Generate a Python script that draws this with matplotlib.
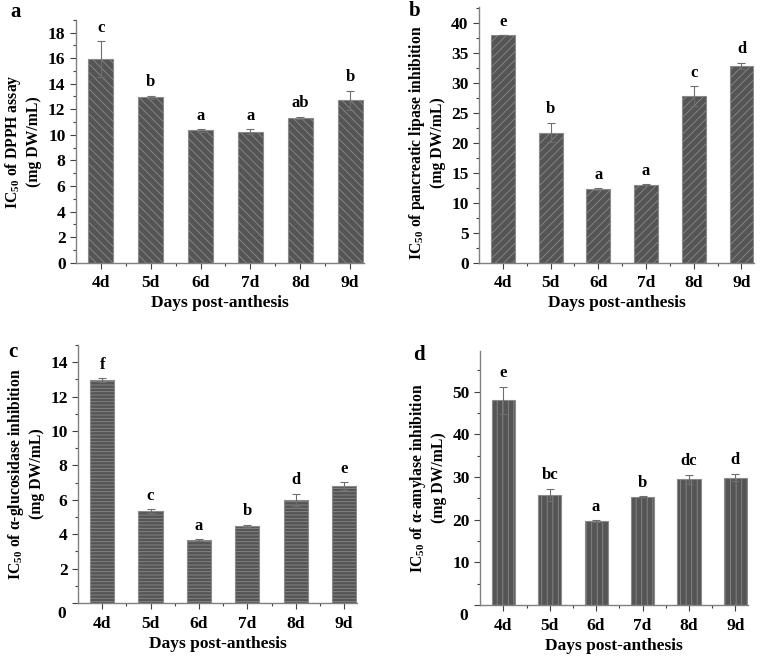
import matplotlib.pyplot as plt
from matplotlib.ticker import MultipleLocator, AutoMinorLocator, FuncFormatter

plt.rcParams['font.family'] = ['Liberation Serif', 'DejaVu Serif']
plt.rcParams['font.weight'] = 'bold'
plt.rcParams['mathtext.fontset'] = 'custom'
plt.rcParams['mathtext.rm'] = 'Liberation Serif:bold'
plt.rcParams['mathtext.default'] = 'rm'
plt.rcParams['hatch.color'] = '#2e2e2e'
plt.rcParams['hatch.linewidth'] = 0.6

days = ['4d', '5d', '6d', '7d', '8d', '9d']

# panel a - DPPH
dpph = [15.9, 12.95, 10.35, 10.25, 11.35, 12.7]
dpph_err = [1.4, 0.12, 0.1, 0.2, 0.08, 0.75]
dpph_sig = ['c', 'b', 'a', 'a', 'ab', 'b']

# panel b - pancreatic lipase
lipase = [37.9, 21.7, 12.3, 13.0, 27.8, 32.8]
lipase_err = [0.0, 1.6, 0.1, 0.05, 1.6, 0.5]
lipase_sig = ['e', 'b', 'a', 'a', 'c', 'd']

# panel c - alpha-glucosidase
gluc = [12.95, 5.35, 3.65, 4.5, 6.0, 6.8]
gluc_err = [0.12, 0.1, 0.05, 0.05, 0.35, 0.22]
gluc_sig = ['f', 'c', 'a', 'b', 'd', 'e']

# panel d - alpha-amylase
amyl = [48.0, 25.8, 19.7, 25.4, 29.5, 29.9]
amyl_err = [3.2, 1.5, 0.2, 0.1, 1.1, 0.9]
amyl_sig = ['e', 'bc', 'a', 'b', 'dc', 'd']

panels = [
    # letter, values, err, sig, hatch, ymax, major step, ylabel, axes rect, letter pos (px), label y
    ('a', dpph, dpph_err, dpph_sig, '\\\\\\\\', 19, 2,
     'IC$_{50}$ of DPPH assay\n(mg DW/mL)', [0.099, 0.600, 0.375, 0.370], (16, 12), 0.5),
    ('b', lipase, lipase_err, lipase_sig, '////', 42.7, 5,
     'IC$_{50}$ of pancreatic lipase inhibition\n(mg DW/mL)', [0.6245, 0.600, 0.359, 0.390], (415, 11), 0.47),
    ('c', gluc, gluc_err, gluc_sig, '-----', 15, 2,
     'IC$_{50}$ of α-glucosidase inhibition\n(mg DW/mL)', [0.1017, 0.082, 0.364, 0.393], (13, 352), 0.5),
    ('d', amyl, amyl_err, amyl_sig, '|||', 59.6, 10,
     'IC$_{50}$ of α-amylase inhibition\n(mg DW/mL)', [0.626, 0.079, 0.349, 0.387], (419, 355), 0.5),
]

W, H = 767, 657
fig = plt.figure(figsize=(W / 100, H / 100), dpi=100)

for letter, vals, err, sig, hatch, ymax, major, ylabel, rect, lpos, label_y in panels:
    ax = fig.add_axes(rect)
    x = range(len(days))
    ax.bar(x, vals, width=0.5, color='#555555', edgecolor='#8a8a8a',
           linewidth=0.8, hatch=hatch, zorder=2)
    ax.errorbar(x, vals, yerr=err, fmt='none', ecolor='#6e6e6e',
                elinewidth=0.8, capsize=3, capthick=0.8, zorder=3)
    for xi, v, e, s in zip(x, vals, err, sig):
        ax.annotate(s, (xi, v + e), xytext=(0, 4), textcoords='offset points',
                    ha='center', va='bottom', fontsize=12, fontweight='bold')

    ax.set_xlim(-0.5, 5.27)
    ax.set_ylim(0, ymax)
    ax.set_xticks(list(x))
    ax.set_xticklabels(days)
    ax.set_xticks([i + 0.5 for i in range(5)], minor=True)
    ax.yaxis.set_major_locator(MultipleLocator(major))
    ax.yaxis.set_minor_locator(AutoMinorLocator(2))

    for side in ['top', 'right']:
        ax.spines[side].set_visible(False)
    for side in ['left', 'bottom']:
        ax.spines[side].set_color('#808080')
        ax.spines[side].set_linewidth(1.0)
    ax.tick_params(which='both', direction='out', color='#404040', width=0.8)
    ax.tick_params(which='major', length=4, labelsize=12.5)
    ax.tick_params(axis='x', which='major', pad=5)
    ax.tick_params(which='minor', length=2)

    ax.set_xlabel('Days post-anthesis', fontsize=12.5, fontweight='bold', labelpad=3)
    ax.set_ylabel(ylabel, fontsize=11.3, fontweight='bold', linespacing=1.25)
    ax.yaxis.label.set_y(label_y)

    if letter in ('c', 'd'):
        # the zero label sits a little below the axis in these panels
        ax.yaxis.set_major_formatter(FuncFormatter(lambda v, p: '' if v == 0 else f'{v:g}'))
        ax.annotate('0', xy=(0, 0), xycoords=('axes fraction', 'data'),
                    xytext=(-9, -8), textcoords='offset points',
                    ha='right', va='center', fontsize=12.5, fontweight='bold')

    fig.text(lpos[0] / W, 1 - lpos[1] / H, letter, fontsize=15, fontweight='bold',
             ha='center', va='center')

fig.savefig('out.png', dpi=100)
